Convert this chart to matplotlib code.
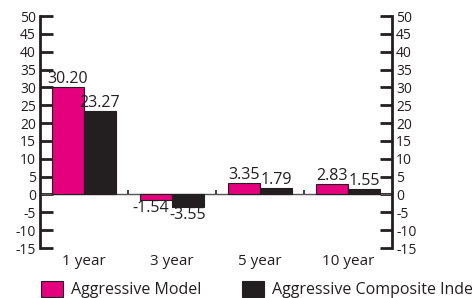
import numpy as np
import matplotlib
matplotlib.use('Agg')
import matplotlib.pyplot as plt

categories = ['1 year', '3 year', '5 year', '10 year']
model = [30.20, -1.54, 3.35, 2.83]
composite = [23.27, -3.55, 1.79, 1.55]
series_names = ['Aggressive Model', 'Aggressive Composite Index']
yticks = list(range(-15, 51, 5))

pink = '#E5007D'
dark = '#231F20'

plt.rcParams['font.family'] = ['Open Sans', 'DejaVu Sans']
plt.rcParams['text.color'] = dark

W, H = 472, 298
dpi = 100.0
fig = plt.figure(figsize=(W / dpi, H / dpi), dpi=dpi)
ax = fig.add_axes([40 / W, 1 - 248 / H, 352 / W, 232 / H])

x = np.arange(len(categories))
bw = 0.365
b1 = ax.bar(x - bw / 2, model, bw, color=pink, edgecolor=dark, linewidth=0.8, zorder=3)
b2 = ax.bar(x + bw / 2, composite, bw, color=dark, edgecolor=dark, linewidth=0.8, zorder=3)

# value labels; a negative left-bar label is nudged left so it clears the neighbour
for bars, vals, nudge in ((b1, model, -4), (b2, composite, 0)):
    for r, v in zip(bars, vals):
        cx = r.get_x() + r.get_width() / 2
        ax.annotate('%.2f' % v, (cx, v), xytext=(nudge if v < 0 else 0, 0),
                    textcoords='offset points', ha='center',
                    va='bottom' if v >= 0 else 'top', fontsize=11.5,
                    color=dark, zorder=6)

ax.axhline(0, color='#555555', lw=1, zorder=2)
ax.vlines(x[:-1] + 0.5, 0, 1.3, color=dark, lw=1.2, zorder=2)

ax.set_xlim(-0.5, len(categories) - 0.5)
ax.set_ylim(-15, 50)
ax.set_yticks(yticks)
ax.set_yticklabels([str(t) for t in yticks])
ax.set_xticks(x)
ax.set_xticklabels(categories, fontsize=11)
ax.tick_params(axis='x', length=0, pad=4, colors=dark)
ax.tick_params(axis='y', direction='in', length=9, width=2, left=True, right=True,
               labelleft=True, labelright=True, labelsize=10, pad=3, colors=dark)
for s in ('top', 'bottom'):
    ax.spines[s].set_visible(False)
for s in ('left', 'right'):
    ax.spines[s].set_linewidth(2)
    ax.spines[s].set_color(dark)

for h, name, xpos in ((b1, series_names[0], 41), (b2, series_names[1], 242)):
    fig.legend([h], [name], loc='upper left', bbox_to_anchor=(xpos / W, 1 - 281 / H),
               frameon=False, borderpad=0, borderaxespad=0, handlelength=1.4,
               handleheight=1.15, handletextpad=0.45, fontsize=11.5)

fig.savefig('out.png', dpi=dpi)
